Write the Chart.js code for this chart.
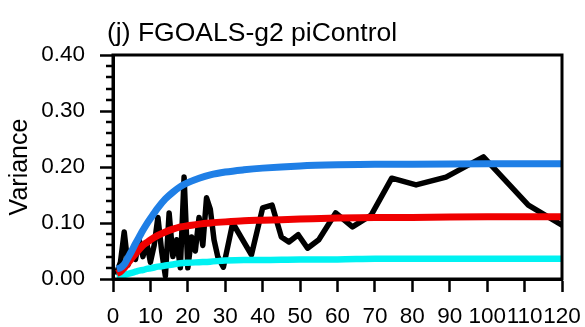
<!DOCTYPE html>
<html>
<head>
<meta charset="utf-8">
<script src="https://cdn.jsdelivr.net/npm/chart.js@4.4.1/dist/chart.umd.min.js"></script>
<style>
  html, body { margin: 0; padding: 0; background: #fff; }
  canvas { display: block; }
</style>
</head>
<body>
<canvas id="c" width="585" height="327"></canvas>
<script>
// Variance of the control run versus lag (years)
const titleText = '(j) FGOALS-g2 piControl';
const yTitle = 'Variance';

// noisy diagnosed variance (black)
const obsYears = [1, 2, 3, 4, 5, 6, 7, 8, 9, 10, 11, 12, 13, 14, 15, 16, 17, 18, 19, 20,
  21, 22, 23, 24, 25, 26, 27, 28, 29.5, 32, 37, 40, 42.5, 45, 47, 49.5, 52, 55, 59.5, 64,
  69, 74.5, 81, 89, 99, 111, 120];
const obsVar = [0.012, 0.03, 0.084, 0.025, 0.05, 0.035, 0.07, 0.04, 0.065, 0.03, 0.06, 0.11,
  0.05, 0.005, 0.118, 0.04, 0.07, 0.02, 0.182, 0.02,
  0.075, 0.05, 0.11, 0.06, 0.145, 0.125, 0.07, 0.04, 0.021, 0.1, 0.043, 0.127, 0.132, 0.075,
  0.066, 0.079, 0.055, 0.07, 0.118, 0.093, 0.114, 0.18, 0.168, 0.182, 0.218, 0.132, 0.096];

// fitted curves
const fitYears = [1, 2, 3, 4, 5, 6, 7, 8, 9, 10, 12, 14, 16, 18, 20, 23, 26, 30, 35, 40,
  50, 60, 70, 80, 100, 120];
const blueVar = [0.018, 0.02, 0.026, 0.038, 0.05, 0.063, 0.075, 0.087, 0.098, 0.108, 0.127,
  0.143, 0.155, 0.165, 0.172, 0.18, 0.186, 0.191, 0.195, 0.198, 0.202, 0.204, 0.205, 0.205,
  0.206, 0.206];
const redVar = [0.01, 0.013, 0.02, 0.028, 0.037, 0.045, 0.053, 0.06, 0.065, 0.07, 0.078,
  0.084, 0.089, 0.093, 0.095, 0.098, 0.1, 0.102, 0.104, 0.105, 0.107, 0.109, 0.11, 0.11,
  0.111, 0.111];
const cyanVar = [0.004, 0.005, 0.007, 0.009, 0.011, 0.013, 0.015, 0.016, 0.018, 0.019, 0.022,
  0.024, 0.026, 0.028, 0.029, 0.03, 0.031, 0.033, 0.034, 0.034, 0.035, 0.035, 0.036, 0.036,
  0.036, 0.036];

// axis ticks
const xTicks = [0, 10, 20, 30, 40, 50, 60, 70, 80, 90, 100, 110, 120];
const yTicks = [0, 0.1, 0.2, 0.3, 0.4];
const yMinorTicks = [0.02, 0.04, 0.06, 0.08, 0.12, 0.14, 0.16, 0.18, 0.22, 0.24, 0.26, 0.28,
  0.32, 0.34, 0.36, 0.38];

const FONT = "'Liberation Sans', Arial, Helvetica, sans-serif";
const pts = (xs, ys) => xs.map((x, i) => ({ x: x, y: ys[i] }));

// frame, minor ticks and title
const decorations = {
  id: 'decorations',
  afterDraw(chart) {
    const { ctx, chartArea: a, scales: { y } } = chart;
    ctx.save();
    ctx.strokeStyle = '#000';
    ctx.lineWidth = 2.5;
    yMinorTicks.forEach(v => {
      const py = Math.round(y.getPixelForValue(v));
      ctx.beginPath();
      ctx.moveTo(a.left - 7, py);
      ctx.lineTo(a.left, py);
      ctx.stroke();
    });
    ctx.lineWidth = 3;
    ctx.strokeRect(a.left, a.top, a.right - a.left, a.bottom - a.top);
    ctx.fillStyle = '#000';
    ctx.font = '26.5px ' + FONT;
    ctx.textAlign = 'left';
    ctx.textBaseline = 'alphabetic';
    ctx.fillText(titleText, a.left - 6, 41);
    ctx.restore();
  }
};

// keep the plot box independent of label overhang
const noLabelPadding = s => {
  s.paddingLeft = 0; s.paddingRight = 0; s.paddingTop = 0; s.paddingBottom = 0;
};

new Chart(document.getElementById('c'), {
  type: 'line',
  data: {
    datasets: [
      { data: pts(obsYears, obsVar), borderColor: '#000', borderWidth: 5.5, tension: 0,
        borderJoinStyle: 'round', borderCapStyle: 'round', order: 4 },
      { data: pts(fitYears, cyanVar), borderColor: '#00f2f2', borderWidth: 6.5,
        cubicInterpolationMode: 'monotone', order: 3 },
      { data: pts(fitYears, redVar), borderColor: '#f00000', borderWidth: 7,
        cubicInterpolationMode: 'monotone', order: 2 },
      { data: pts(fitYears, blueVar), borderColor: '#1f7fe6', borderWidth: 7,
        cubicInterpolationMode: 'monotone', order: 1 }
    ]
  },
  options: {
    responsive: false,
    animation: false,
    devicePixelRatio: 1,
    elements: { point: { radius: 0 } },
    layout: { padding: { left: 0, right: 23, top: 55, bottom: 0 } },
    plugins: { legend: { display: false }, tooltip: { enabled: false }, title: { display: false } },
    scales: {
      x: {
        type: 'linear', min: 0, max: 120,
        afterBuildTicks: s => { s.ticks = xTicks.map(v => ({ value: v })); },
        afterFit: s => { s.height = 48; noLabelPadding(s); },
        ticks: { autoSkip: false, maxRotation: 0, color: '#000', padding: 11,
          font: { family: FONT, size: 22.5 } },
        grid: { drawOnChartArea: false, drawTicks: true, tickLength: 13, tickWidth: 2.5, tickColor: '#000' },
        border: { display: true, color: '#000', width: 3 }
      },
      y: {
        min: 0, max: 0.4,
        afterBuildTicks: s => { s.ticks = yTicks.map(v => ({ value: v })); },
        afterFit: s => { s.width = 113; noLabelPadding(s); },
        ticks: { color: '#000', padding: 15, font: { family: FONT, size: 22.5 },
          callback: v => v.toFixed(2) },
        grid: { drawOnChartArea: false, drawTicks: true, tickLength: 13, tickWidth: 2.5, tickColor: '#000' },
        border: { display: true, color: '#000', width: 3 },
        title: { display: true, text: yTitle, color: '#000', padding: { top: 5, bottom: 0 },
          font: { family: FONT, size: 25 } }
      }
    }
  },
  plugins: [decorations]
});
</script>
</body>
</html>
